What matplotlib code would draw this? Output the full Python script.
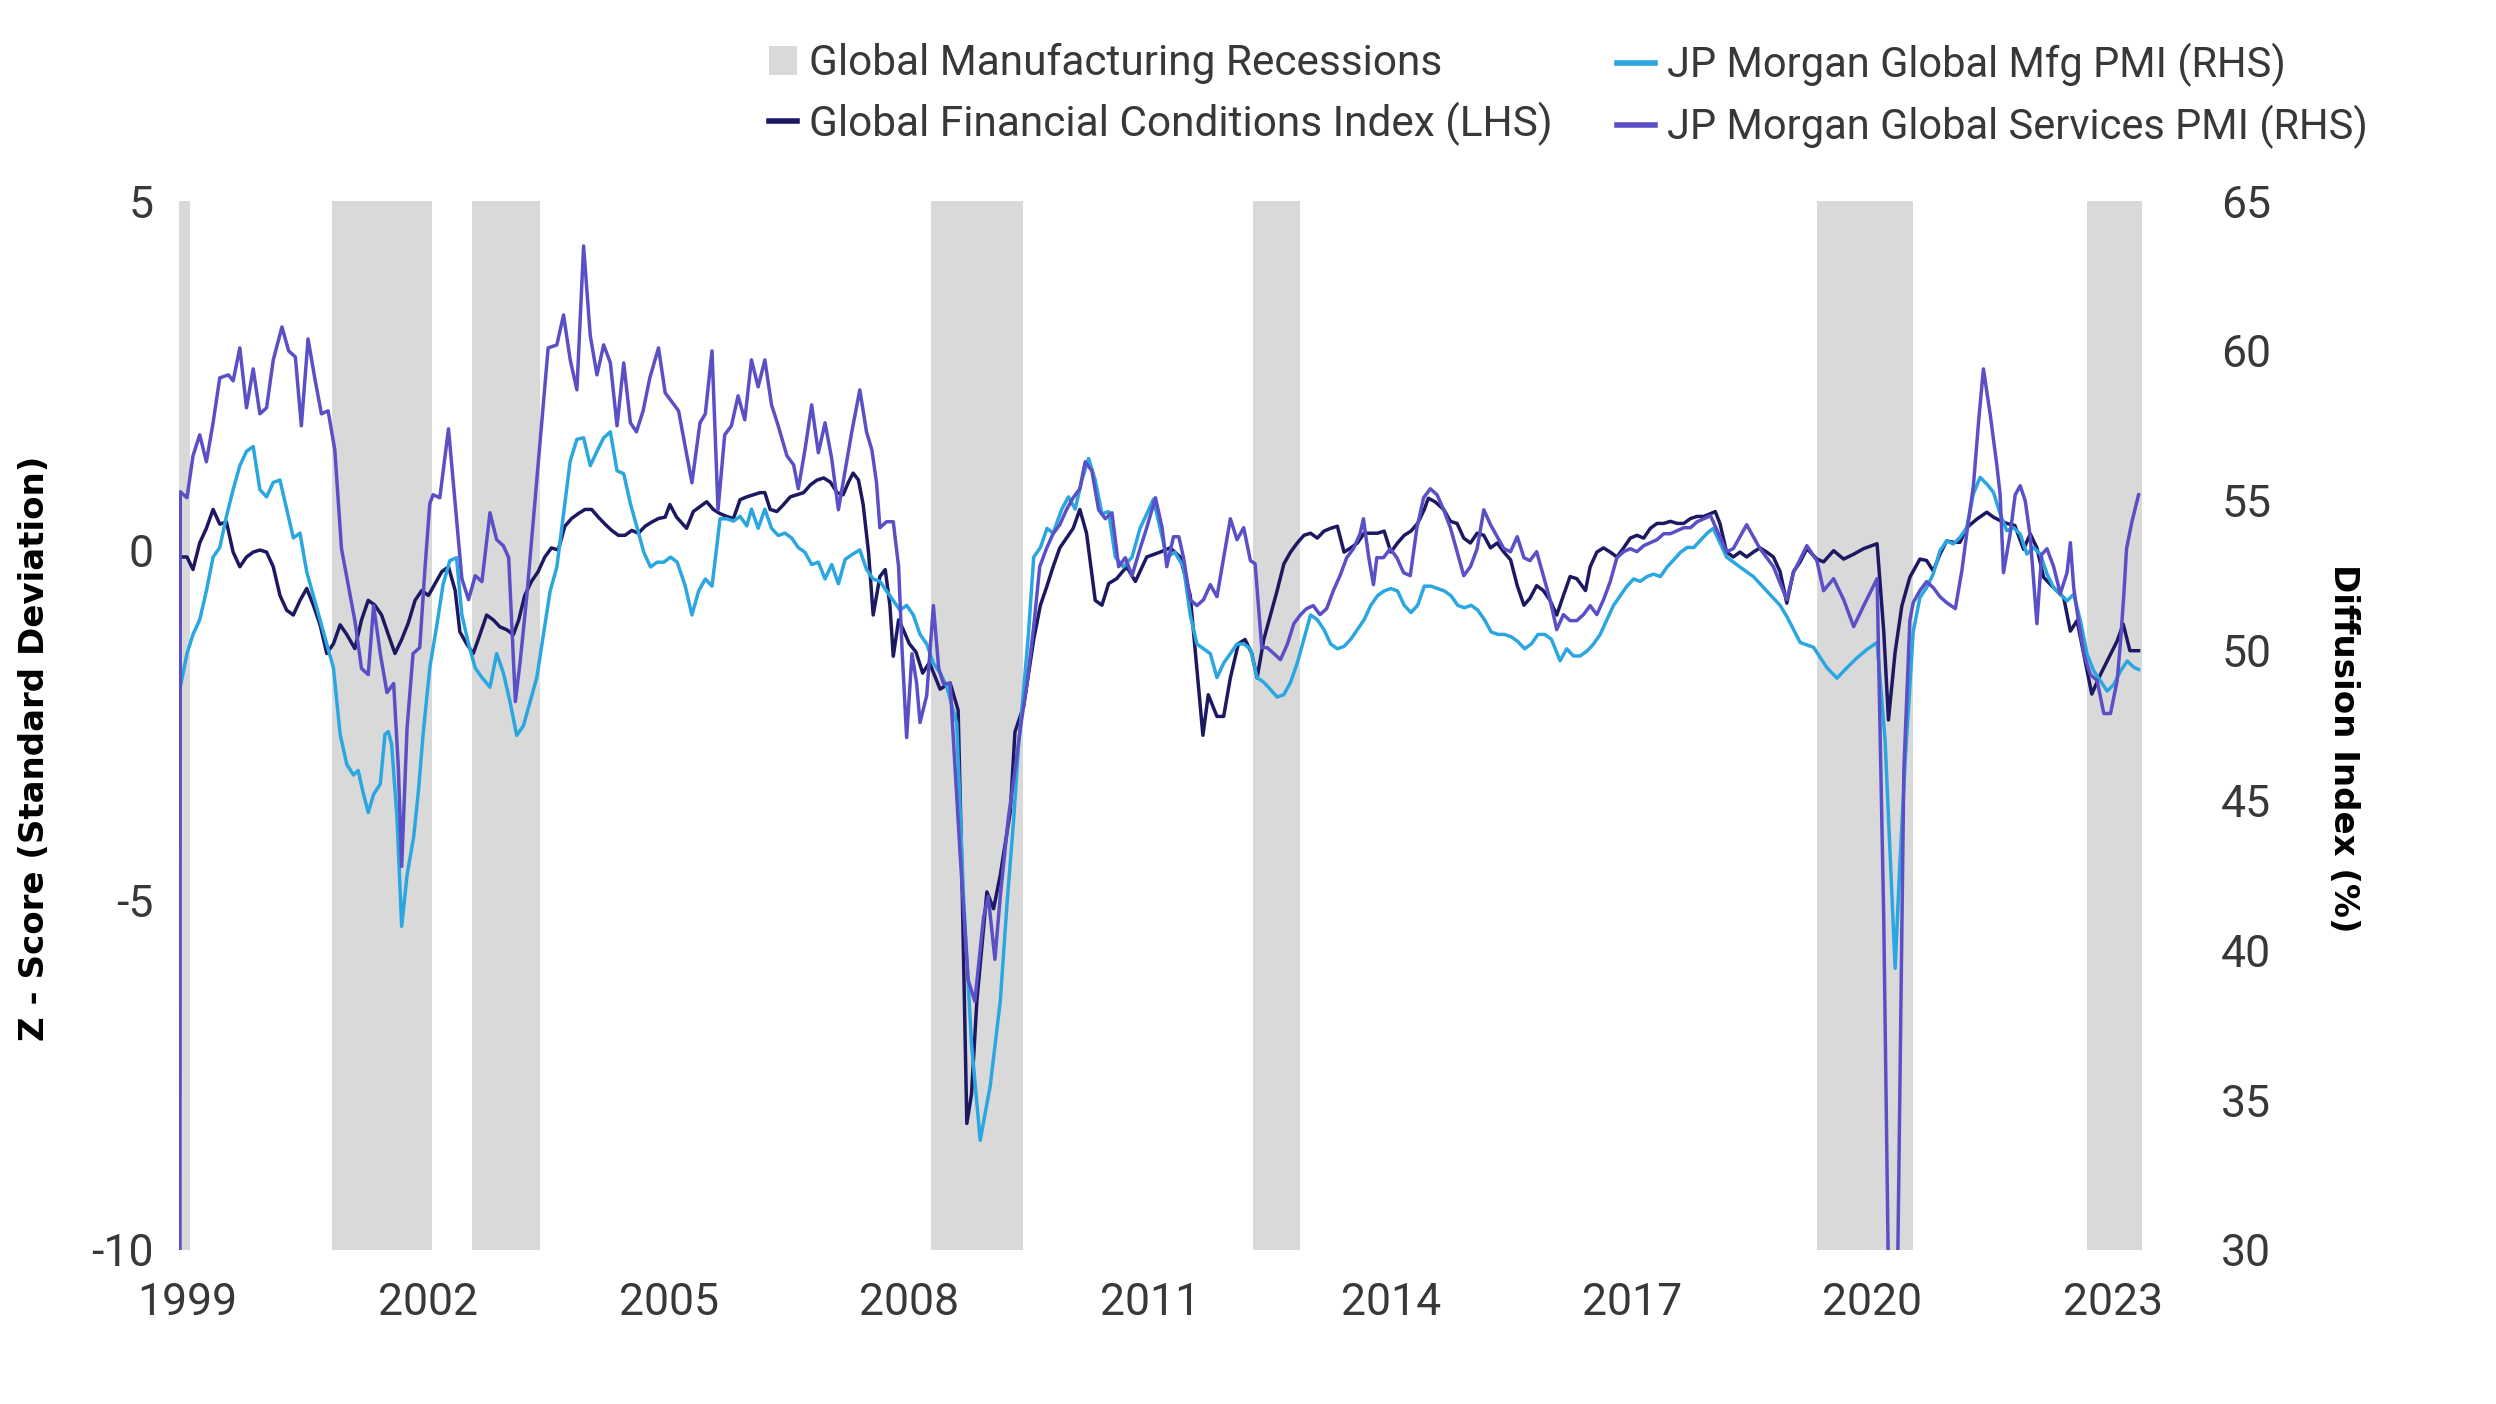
import matplotlib
matplotlib.use('Agg')
import numpy as np
import matplotlib.pyplot as plt
from matplotlib.lines import Line2D
from matplotlib.patches import Patch

plt.rcParams['axes.unicode_minus'] = False
plt.rcParams['font.family'] = ['Roboto', 'DejaVu Sans']

# months are counted from Jan 1999 (0 = Jan 1999)
rec_start = [1998.89, 2000.81, 2002.55, 2008.27, 2012.28, 2019.31, 2022.68]
rec_end = [1999.04, 2002.05, 2003.40, 2009.42, 2012.87, 2020.50, 2023.36]

year_ticks = [1999, 2002, 2005, 2008, 2011, 2014, 2017, 2020, 2023]

# Global Financial Conditions Index (LHS, z-score)
gfci_m = [-1.0, 0.0, 0.9, 1.9, 2.9, 3.9, 4.9, 5.9, 6.9, 7.9,
          8.9, 9.9, 10.9, 11.9, 12.9, 13.9, 14.9, 15.9, 16.9, 17.9,
          18.9, 19.9, 20.9, 21.9, 22.9, 23.9, 25.1, 26.1, 27.1, 28.1,
          29.1, 30.1, 31.1, 32.1, 33.1, 34.1, 35.1, 36.1, 37.1, 38.1,
          39.1, 40.1, 40.8, 41.8, 42.8, 43.8, 44.8, 45.8, 46.8, 47.8,
          48.8, 49.6, 50.5, 51.5, 52.5, 53.5, 54.5, 55.5, 56.5, 57.5,
          58.5, 59.5, 60.5, 61.5, 62.5, 63.5, 64.5, 65.5, 66.5, 67.5,
          68.5, 69.5, 70.5, 71.5, 72.2, 73.2, 74.7, 75.7, 76.7, 77.7,
          78.7, 79.7, 80.7, 81.7, 82.7, 83.7, 84.7, 85.7, 86.4, 87.2,
          88.2, 89.2, 90.2, 91.2, 92.2, 93.2, 94.2, 95.2, 96.2, 97.2,
          98.1, 98.9, 99.6, 100.4, 101.1, 101.9, 102.6, 103.6, 104.4, 105.1,
          105.6, 106.4, 107.1, 108.0, 109.0, 110.0, 111.0, 112.6, 114.1, 115.3,
          115.8, 116.3, 116.6, 117.3, 118.1, 119.6, 120.6, 121.6, 123.1, 123.8,
          125.1, 126.6, 127.6, 128.6, 129.5, 130.5, 131.5, 132.5, 133.5, 134.5,
          135.8, 136.8, 137.8, 139.0, 140.5, 141.8, 143.5, 145.5, 147.0, 148.5,
          150.0, 151.9, 152.7, 154.0, 155.0, 156.0, 157.2, 158.2, 159.2, 160.0,
          161.0, 162.0, 163.0, 164.0, 165.0, 166.0, 167.0, 168.0, 169.0, 170.0,
          171.0, 172.0, 173.0, 174.0, 175.0, 176.0, 177.0, 178.0, 179.0, 180.0,
          181.0, 182.0, 183.0, 184.0, 185.0, 185.6, 186.6, 187.9, 188.9, 189.9,
          190.9, 191.9, 192.9, 193.9, 194.9, 195.9, 196.9, 197.9, 198.9, 199.9,
          200.8, 201.8, 202.8, 203.8, 204.8, 205.8, 206.8, 207.8, 209.1, 209.8,
          210.8, 211.8, 212.8, 213.8, 214.8, 215.8, 216.8, 217.8, 218.8, 219.8,
          220.8, 221.8, 222.8, 223.8, 224.8, 225.8, 226.8, 227.8, 228.5, 229.2,
          230.2, 231.2, 232.2, 233.2, 234.2, 235.2, 236.2, 237.2, 238.2, 239.2,
          240.2, 241.2, 242.2, 243.7, 244.7, 246.2, 247.7, 249.2, 250.7, 252.7,
          253.7, 254.4, 255.4, 256.4, 257.6, 259.1, 260.1, 261.1, 262.1, 263.1,
          264.1, 265.1, 266.1, 267.6, 269.1, 270.1, 271.1, 272.1, 273.3, 274.6,
          275.6, 276.6, 277.6, 279.1, 280.6, 281.6, 282.6, 283.6, 284.8, 286.1,
          287.6, 288.6, 289.5, 290.5, 291.8]
gfci = [-0.09, -0.09, -0.27, 0.11, 0.32, 0.59, 0.38, 0.41, -0.02, -0.23,
        -0.09, -0.02, 0.01, -0.02, -0.23, -0.64, -0.85, -0.92, -0.71, -0.54,
        -0.78, -1.06, -1.47, -1.33, -1.06, -1.20, -1.40, -0.99, -0.71, -0.78,
        -0.92, -1.20, -1.47, -1.27, -1.03, -0.71, -0.57, -0.64, -0.47, -0.30,
        -0.23, -0.57, -1.16, -1.33, -1.47, -1.20, -0.92, -0.99, -1.09, -1.13,
        -1.20, -0.99, -0.64, -0.44, -0.30, -0.09, 0.04, 0.01, 0.35, 0.46,
        0.53, 0.59, 0.59, 0.48, 0.38, 0.29, 0.22, 0.22, 0.29, 0.25,
        0.35, 0.41, 0.46, 0.48, 0.66, 0.48, 0.32, 0.56, 0.63, 0.70,
        0.59, 0.53, 0.49, 0.46, 0.73, 0.77, 0.80, 0.83, 0.83, 0.59,
        0.56, 0.66, 0.77, 0.80, 0.83, 0.94, 1.01, 1.04, 0.98, 0.83,
        0.80, 0.98, 1.11, 1.01, 0.66, -0.02, -0.92, -0.37, -0.27, -0.78,
        -1.51, -0.99, -1.13, -1.33, -1.45, -1.75, -1.60, -1.98, -1.89, -2.28,
        -4.33, -6.75, -8.19, -7.77, -6.44, -4.88, -5.12, -4.64, -3.73, -2.59,
        -2.22, -1.27, -0.78, -0.50, -0.23, 0.04, 0.18, 0.32, 0.59, 0.25,
        -0.71, -0.78, -0.47, -0.40, -0.23, -0.44, -0.09, -0.02, 0.04, -0.09,
        -0.64, -2.64, -2.06, -2.37, -2.37, -1.82, -1.33, -1.27, -1.47, -1.82,
        -1.27, -0.92, -0.57, -0.19, -0.02, 0.11, 0.22, 0.25, 0.18, 0.28,
        0.32, 0.35, -0.02, 0.04, 0.11, 0.25, 0.25, 0.25, 0.28, -0.02,
        0.11, 0.22, 0.28, 0.39, 0.59, 0.75, 0.70, 0.59, 0.42, 0.39,
        0.18, 0.11, 0.25, 0.22, 0.04, 0.11, -0.02, -0.13, -0.50, -0.78,
        -0.68, -0.50, -0.57, -0.71, -0.92, -0.64, -0.37, -0.40, -0.57, -0.23,
        -0.02, 0.04, -0.02, -0.09, 0.04, 0.18, 0.22, 0.18, 0.32, 0.39,
        0.39, 0.42, 0.39, 0.39, 0.46, 0.49, 0.49, 0.53, 0.56, 0.39,
        -0.02, -0.09, -0.02, -0.09, -0.02, 0.04, -0.02, -0.09, -0.30, -0.75,
        -0.30, -0.16, 0.03, -0.12, -0.16, 0.00, -0.12, -0.05, 0.03, 0.10,
        -1.16, -2.42, -1.45, -0.79, -0.38, -0.12, -0.14, -0.29, -0.05, 0.14,
        0.12, 0.12, 0.33, 0.45, 0.55, 0.48, 0.43, 0.39, 0.36, 0.02,
        0.24, 0.04, -0.38, -0.53, -0.67, -1.15, -1.00, -1.48, -2.05, -1.77,
        -1.48, -1.29, -1.05, -1.43, -1.43]

# JP Morgan Global Mfg PMI (RHS)
mfg_m = [-1.0, 0.0, 0.9, 1.9, 2.9, 3.9, 4.9, 5.9, 6.9, 7.9,
         8.9, 9.9, 10.9, 11.9, 12.9, 13.9, 14.9, 15.9, 16.9, 17.9,
         18.9, 19.9, 20.9, 21.9, 22.9, 23.9, 24.9, 25.6, 26.4, 27.1,
         27.9, 28.9, 29.6, 30.1, 30.6, 31.4, 32.1, 32.9, 33.9, 34.6,
         35.3, 36.3, 37.3, 38.3, 39.3, 40.3, 41.1, 42.1, 43.1, 44.1,
         45.3, 46.3, 47.3, 48.3, 49.3, 50.3, 51.3, 52.3, 53.3, 54.3,
         55.3, 56.3, 57.3, 58.3, 59.3, 60.3, 61.3, 62.3, 63.3, 64.3,
         65.3, 66.3, 67.3, 68.3, 69.3, 70.3, 71.3, 72.3, 73.3, 74.5,
         75.5, 76.5, 77.5, 78.5, 79.2, 79.7, 80.7, 81.7, 82.7, 83.7,
         84.4, 85.4, 86.4, 87.4, 88.4, 89.4, 90.4, 91.4, 92.4, 93.4,
         94.4, 95.4, 96.4, 97.4, 98.4, 99.4, 100.6, 101.6, 102.6, 103.6,
         104.6, 105.6, 106.6, 107.6, 108.6, 109.6, 110.6, 111.6, 112.6, 113.6,
         115.1, 116.1, 117.3, 118.6, 120.1, 121.6, 122.6, 123.6, 124.3, 125.1,
         125.8, 126.6, 127.6, 128.6, 129.5, 130.8, 131.8, 132.8, 133.8, 134.8,
         135.8, 136.8, 137.8, 138.8, 140.0, 141.3, 142.5, 143.5, 144.5, 145.5,
         146.5, 147.7, 149.0, 150, 151, 152, 153, 154, 155, 156,
         157, 158, 159, 160, 161, 162, 163, 164, 165, 166,
         167, 168, 169, 170, 171, 172, 173, 174, 175, 176,
         177, 178, 179, 180, 181, 182, 183, 184, 185, 186,
         187, 188, 189, 190, 191, 192, 193, 194, 195, 196,
         197, 198, 199, 200, 201, 202, 203, 204, 205.3, 206.3,
         207.3, 208.3, 209.3, 210.3, 211.3, 212.3, 213.3, 214.3, 215.3, 216.3,
         217.3, 218.3, 219.3, 220.3, 221.3, 222.3, 223.3, 224.3, 225.3, 226.3,
         227.3, 228.2, 230.2, 232.2, 234.2, 236.2, 238.2, 239.2, 241.2, 243.2,
         245.2, 246.7, 248.2, 249.7, 251.2, 252.7, 253.9, 255.4, 256.1, 256.9,
         258.1, 259.1, 260.1, 261.1, 262.1, 263.1, 264.1, 265.1, 266.1, 267.1,
         268.1, 269.1, 270.1, 271.1, 272.1, 273.1, 274.1, 275.1, 276.1, 277.1,
         278.1, 279.1, 280.1, 281.1, 282.1, 283.1, 284.1, 285.1, 286.1, 287.1,
         288.1, 289.1, 290.1, 291.1, 291.8]
mfg = [48.78, 49.90, 50.54, 51.03, 51.99, 53.12, 53.44, 54.48, 55.37, 56.17,
       56.65, 56.81, 55.37, 55.13, 55.61, 55.69, 54.72, 53.76, 53.92, 52.63,
       51.83, 51.03, 50.22, 49.42, 47.20, 46.20, 45.85, 46.00, 45.20, 44.60,
       45.20, 45.55, 47.20, 47.30, 46.87, 44.42, 40.80, 42.50, 43.80, 45.31,
       47.20, 49.43, 50.77, 52.22, 53.00, 53.10, 51.19, 50.22, 49.42, 49.10,
       48.78, 49.90, 49.26, 48.29, 47.17, 47.49, 48.29, 49.10, 50.54, 51.99,
       52.79, 54.56, 56.33, 57.05, 57.10, 56.17, 56.65, 57.10, 57.30, 56.00,
       55.90, 54.90, 54.10, 53.28, 52.79, 52.95, 52.95, 53.12, 52.95, 52.15,
       51.19, 51.99, 52.39, 52.15, 53.44, 54.40, 54.40, 54.32, 54.48, 54.16,
       54.72, 54.08, 54.72, 54.08, 53.84, 53.92, 53.76, 53.44, 53.28, 52.87,
       52.95, 52.39, 52.87, 52.23, 53.04, 53.20, 53.36, 52.71, 52.39, 52.31,
       51.99, 51.67, 51.35, 51.51, 51.19, 50.54, 50.22, 49.58, 49.26, 48.80,
       47.57, 41.80, 36.88, 33.66, 35.48, 38.30, 41.52, 44.35, 46.73, 48.71,
       50.53, 53.12, 53.44, 54.08, 53.92, 54.72, 55.13, 54.72, 55.69, 56.41,
       55.69, 54.56, 54.64, 53.12, 52.79, 53.12, 54.08, 54.56, 55.05, 54.08,
       53.12, 53.28, 52.79, 51.20, 50.22, 50.06, 49.90, 49.10, 49.58, 49.90,
       50.22, 50.22, 50.06, 49.10, 48.94, 48.70, 48.45, 48.53, 48.94, 49.58,
       50.38, 51.19, 51.03, 50.70, 50.22, 50.06, 50.14, 50.38, 50.70, 51.03,
       51.51, 51.83, 51.99, 52.07, 51.99, 51.51, 51.27, 51.51, 52.15, 52.15,
       52.07, 51.99, 51.83, 51.51, 51.43, 51.51, 51.35, 51.03, 50.62, 50.54,
       50.54, 50.46, 50.30, 50.06, 50.22, 50.54, 50.54, 50.38, 49.66, 50.06,
       49.82, 49.82, 49.98, 50.22, 50.54, 51.03, 51.51, 51.83, 52.15, 52.39,
       52.31, 52.47, 52.55, 52.47, 52.79, 53.03, 53.28, 53.44, 53.44, 53.68,
       53.92, 54.08, 53.12, 52.79, 52.47, 51.99, 51.51, 51.14, 50.27, 50.11,
       49.43, 49.08, 49.43, 49.76, 50.04, 50.27, 47.00, 39.40, 42.85, 46.30,
       50.62, 51.77, 52.10, 52.56, 53.33, 53.66, 53.56, 53.78, 54.10, 55.23,
       55.78, 55.56, 55.28, 54.56, 54.00, 54.10, 53.89, 53.22, 53.44, 53.22,
       52.56, 52.10, 51.88, 51.66, 51.88, 51.00, 49.88, 49.32, 48.99, 48.65,
       48.87, 49.32, 49.65, 49.44, 49.37]

# JP Morgan Global Services PMI (RHS); first print and Apr-2020 fall below the axis
svc_m = [-1.1, -1.0, 0.0, 0.9, 1.9, 2.9, 3.9, 4.9, 6.2, 6.9,
         7.9, 8.9, 9.9, 10.9, 11.9, 12.9, 14.2, 15.2, 16.2, 17.1,
         18.1, 19.1, 20.1, 21.1, 22.1, 23.1, 24.1, 25.1, 26.1, 27.1,
         27.9, 28.9, 29.9, 30.9, 31.6, 32.1, 32.9, 33.8, 34.8, 35.6,
         36.3, 36.8, 37.8, 39.1, 40.1, 41.1, 42.1, 43.1, 44.1, 45.3,
         46.3, 47.3, 48.1, 49.1, 49.8, 50.8, 51.8, 52.8, 54.0, 55.3,
         56.3, 57.3, 58.3, 59.3, 60.3, 61.3, 62.3, 63.3, 64.3, 65.3,
         66.3, 67.2, 68.2, 69.2, 70.5, 71.5, 72.5, 73.5, 75.5, 76.7,
         77.5, 78.5, 79.4, 80.4, 81.4, 82.4, 83.4, 84.4, 85.4, 86.4,
         87.4, 88.4, 89.7, 90.7, 91.4, 92.4, 93.4, 94.4, 95.4, 96.4,
         97.4, 98.4, 99.4, 100.6, 101.6, 102.4, 103.1, 103.6, 104.6, 105.6,
         106.4, 106.9, 107.6, 108.4, 109.1, 109.6, 110.6, 111.6, 112.4, 113.1,
         114.1, 115.6, 116.8, 117.8, 119.1, 119.8, 120.8, 121.6, 122.8, 123.8,
         124.6, 125.6, 126.6, 127.5, 128.5, 129.5, 130.5, 131.5, 132.5, 133.5,
         134.3, 135.3, 136.3, 137.3, 138.3, 139.3, 140.3, 141.3, 142.5, 143.5,
         144.8, 145.8, 146.5, 147.5, 148.3, 149.0, 150, 151, 152, 153,
         154, 155, 156, 157, 158, 159, 159.7, 160.7, 161.5, 162.5,
         163.5, 164.5, 165.5, 166.5, 167.4, 168.4, 169.4, 170.4, 171.4, 172.4,
         173.4, 174.4, 175.4, 175.9, 176.7, 177.4, 177.9, 178.9, 179.9, 180.9,
         181.9, 182.9, 183.9, 184.9, 185.9, 186.9, 187.9, 188.9, 189.9, 190.9,
         191.9, 192.9, 193.9, 194.9, 195.9, 196.9, 197.9, 198.9, 199.9, 200.8,
         201.8, 202.8, 203.8, 204.8, 205.8, 206.8, 207.8, 208.8, 209.8, 210.8,
         211.8, 212.8, 213.8, 214.8, 215.8, 216.8, 217.8, 218.8, 219.8, 220.8,
         221.8, 222.8, 223.8, 224.8, 225.8, 226.8, 227.8, 229.2, 230.2, 231.2,
         233.2, 235.2, 237.2, 239.2, 240.2, 242.2, 243.7, 244.7, 246.2, 247.7,
         249.2, 250.7, 252.7, 253.7, 254.7, 255.7, 256.7, 257.6, 258.1, 259.1,
         260.1, 261.1, 262.1, 263.1, 264.4, 265.4, 266.1, 267.1, 267.9, 268.6,
         269.6, 270.6, 271.1, 271.6, 272.6, 273.35, 274.1, 274.85, 275.6, 276.6,
         277.3, 278.1, 279.1, 280.1, 281.1, 281.6, 282.1, 282.6, 283.6, 284.6,
         285.6, 286.6, 287.6, 288.6, 289.1, 289.6, 290.0, 290.8, 291.8]
svc = [0.0, 55.3, 55.1, 56.5, 57.2, 56.3, 57.6, 59.1, 59.2, 59.0,
       60.1, 58.1, 59.4, 57.9, 58.1, 59.7, 60.8, 60.0, 59.8, 57.5,
       60.4, 59.1, 57.9, 58.0, 56.7, 53.4, 52.2, 51.0, 49.4, 49.2,
       51.5, 49.9, 48.6, 48.9, 46.1, 42.8, 47.4, 49.9, 50.1, 52.8,
       54.9, 55.2, 55.1, 57.4, 54.9, 52.4, 51.7, 52.5, 52.3, 54.6,
       53.7, 53.5, 53.1, 48.3, 49.6, 51.8, 54.4, 57.0, 60.1, 60.2,
       61.2, 59.7, 58.7, 63.5, 60.5, 59.2, 60.2, 59.6, 57.5, 59.6,
       57.6, 57.3, 58.0, 59.1, 60.1, 58.6, 58.3, 58.0, 55.6, 57.6,
       57.9, 60.0, 54.7, 57.2, 57.5, 58.5, 57.7, 59.7, 58.8, 59.7,
       58.2, 57.5, 56.5, 56.2, 55.4, 56.7, 58.2, 56.6, 57.6, 56.4,
       54.7, 56.0, 57.3, 58.7, 57.3, 56.7, 55.6, 54.1, 54.3, 54.3,
       52.8, 50.1, 47.1, 49.9, 48.9, 47.6, 48.5, 51.5, 49.4, 48.9,
       48.9, 43.2, 39.0, 38.3, 41.1, 41.8, 39.7, 41.8, 44.4, 46.0,
       47.4, 48.9, 50.8, 52.8, 53.4, 53.9, 54.2, 54.7, 55.1, 55.4,
       56.3, 56.0, 54.7, 54.4, 54.6, 52.8, 53.1, 52.5, 53.4, 54.1,
       55.1, 54.1, 52.8, 53.8, 53.8, 53.1, 51.7, 51.5, 51.7, 52.2,
       51.8, 53.1, 54.4, 53.7, 54.1, 53.0, 52.9, 50.1, 50.1, 49.9,
       49.7, 50.2, 50.9, 51.2, 51.4, 51.5, 51.2, 51.4, 52.0, 52.5,
       53.1, 53.4, 53.9, 54.4, 53.1, 52.2, 53.1, 53.1, 53.4, 53.1,
       52.6, 52.5, 54.1, 55.1, 55.4, 55.2, 54.7, 54.1, 53.3, 52.5,
       52.8, 53.4, 54.7, 54.2, 53.8, 53.4, 53.3, 53.8, 53.1, 53.0,
       53.3, 52.5, 51.7, 50.7, 51.2, 51.0, 51.0, 51.2, 51.5, 51.2,
       51.7, 52.3, 53.1, 53.3, 53.4, 53.3, 53.5, 53.6, 53.7, 53.9,
       53.9, 54.0, 54.1, 54.1, 54.3, 54.4, 54.5, 53.8, 53.3, 53.4,
       54.2, 53.4, 52.8, 51.7, 52.6, 53.5, 53.0, 52.0, 52.4, 51.7,
       50.8, 51.5, 52.4, 41.0, 24.0, 28.0, 46.0, 51.0, 51.6, 52.0,
       52.3, 52.1, 51.8, 51.6, 51.4, 52.7, 53.9, 55.5, 57.7, 59.4,
       57.9, 56.2, 55.2, 52.6, 53.9, 55.2, 55.5, 55.0, 53.8, 50.9,
       53.2, 53.4, 52.8, 51.9, 52.6, 53.6, 52.1, 51.3, 49.9, 49.2,
       49.0, 47.9, 47.9, 49.0, 50.3, 51.9, 53.4, 54.3, 55.2]

NAVY = '#1c1862'
CYAN = '#2aa6e0'
PURPLE = '#5a4fc6'
GREY = '#d9d9d9'
TXT = '#383838'


def to_year(m):
    return 1999 + np.asarray(m, dtype=float) / 12.0


fig = plt.figure(figsize=(24.96, 14.04), dpi=100)
ax = fig.add_axes([0.0717, 0.1097, 0.7865, 0.7471])
ax2 = ax.twinx()

for s, e in zip(rec_start, rec_end):
    ax.axvspan(s, e, color=GREY, lw=0, zorder=0)

ax.plot(to_year(gfci_m), gfci, color=NAVY, lw=2.5, zorder=3)
ax2.plot(to_year(mfg_m), mfg, color=CYAN, lw=2.5)
ax2.plot(to_year(svc_m), svc, color=PURPLE, lw=2.5)

ax.set_xlim(1998.9, 2023.36)
ax.set_ylim(-10, 5)
ax2.set_ylim(30, 65)
ax.set_yticks([-10, -5, 0, 5])
ax2.set_yticks([30, 35, 40, 45, 50, 55, 60, 65])
ax.set_xticks(year_ticks)
ax.set_xticklabels([str(y) for y in year_ticks])

for a in (ax, ax2):
    for sp in a.spines.values():
        sp.set_visible(False)
ax.tick_params(axis='x', length=0, pad=23, labelsize=32, labelcolor=TXT)
ax.tick_params(axis='y', length=0, pad=18, labelsize=32, labelcolor=TXT)
ax2.tick_params(axis='y', length=0, pad=57, labelsize=32, labelcolor=TXT)

fig.text(35 / 2496, 1 - 748 / 1404, 'Z - Score (Standard Deviation)', rotation=90,
         ha='center', va='center', fontsize=24.5, fontweight='bold',
         family=['DejaVu Sans'], color='black')
fig.text(2343 / 2496, 1 - 748 / 1404, 'Diffusion Index (%)', rotation=270,
         ha='center', va='center', fontsize=24.5, fontweight='bold',
         family=['DejaVu Sans'], color='black')

h_rec = Patch(facecolor=GREY, edgecolor='none')
h_gfci = Line2D([], [], color=NAVY, lw=4)
h_mfg = Line2D([], [], color=CYAN, lw=4)
h_svc = Line2D([], [], color=PURPLE, lw=4)

fig.legend([h_rec, h_gfci],
           ['Global Manufacturing Recessions', 'Global Financial Conditions Index (LHS)'],
           loc='upper left', bbox_to_anchor=(769 / 2496, 1 - 43 / 1404),
           frameon=False, fontsize=30.5, handlelength=0.65, handletextpad=0.29,
           borderpad=0, borderaxespad=0, labelspacing=0.42, labelcolor=TXT)
fig.legend([h_mfg, h_svc],
           ['JP Morgan Global Mfg PMI (RHS)', 'JP Morgan Global Services PMI (RHS)'],
           loc='upper left', bbox_to_anchor=(1617 / 2496, 1 - 43 / 1404),
           frameon=False, fontsize=30, handlelength=0.92, handletextpad=0.29,
           borderpad=0, borderaxespad=0, labelspacing=0.43, labelcolor=TXT)

fig.savefig('out.png', dpi=100, facecolor='white')
